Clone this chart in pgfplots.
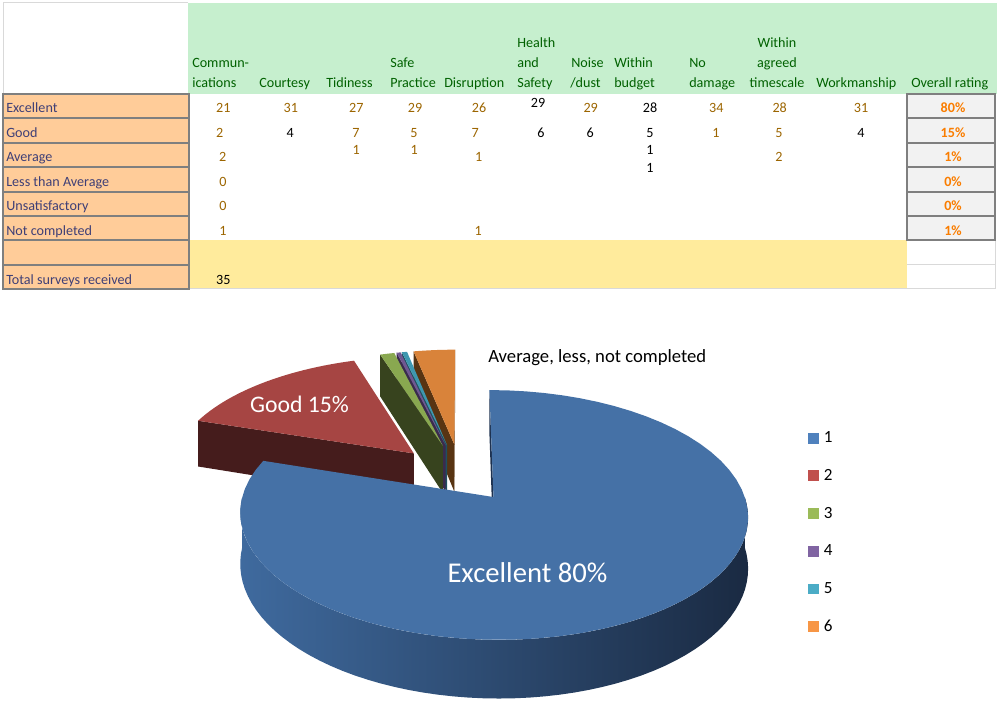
\documentclass[border=0pt]{standalone}
\usepackage{fontspec}
\setmainfont{Carlito}
\usepackage{pgfplots}
\usepackage{pgfplotstable}
\pgfplotsset{compat=1.18}

% spreadsheet cell styles
\definecolor{hdrFill}{HTML}{C6EFCE}
\definecolor{hdrText}{HTML}{006100}
\definecolor{inFill}{HTML}{FFCC99}
\definecolor{inText}{HTML}{3F3F76}
\definecolor{neuFill}{HTML}{FFEB9C}
\definecolor{neuText}{HTML}{9C6500}
\definecolor{calcFill}{HTML}{F2F2F2}
\definecolor{calcText}{HTML}{FA7D00}
\definecolor{cellLine}{HTML}{7F7F7F}
\definecolor{gridLine}{HTML}{D9D9D9}

% pie colours: top faces, cut faces, outer wall
\definecolor{blueT}{HTML}{4571A6}
\definecolor{blueF}{HTML}{1E3250}
\definecolor{blueWL}{HTML}{3F6A9E}
\definecolor{blueWR}{HTML}{1A2A42}
\definecolor{redT}{HTML}{A64543}
\definecolor{redF}{HTML}{451C1C}
\definecolor{greenT}{HTML}{89A850}
\definecolor{greenF}{HTML}{37431E}
\definecolor{purpleT}{HTML}{705791}
\definecolor{purpleF}{HTML}{3A2B4D}
\definecolor{cyanT}{HTML}{3E97B0}
\definecolor{cyanF}{HTML}{1F5060}
\definecolor{orangeT}{HTML}{D9833A}
\definecolor{orangeF}{HTML}{583412}
% legend
\definecolor{leg1}{HTML}{4F81BD}
\definecolor{leg2}{HTML}{C0504D}
\definecolor{leg3}{HTML}{9BBB59}
\definecolor{leg4}{HTML}{8064A2}
\definecolor{leg5}{HTML}{4BACC6}
\definecolor{leg6}{HTML}{F79646}

% shares of the pie (percent), read off the picture, and how far each slice is pulled out
\pgfplotstableread{
slice pct  explode top     face    wallL  wallR
1     80.0 0.22    blueT   blueF   blueWL blueWR
2     15.0 0.28    redT    redF    redF   redF
3     1.1  0.28    greenT  greenF  greenF greenF
4     0.3  0.28    purpleT purpleF purpleF purpleF
5     0.4  0.28    cyanT   cyanF   cyanF  cyanF
6     3.2  0.28    orangeT orangeF orangeF orangeF
}\piedata

% start and end angle of every slice, clockwise from 12 o'clock
\def\acc{0}
\pgfplotsforeachungrouped \i in {0,...,5}{%
  \pgfplotstablegetelem{\i}{pct}\of\piedata
  \pgfmathsetmacro\nxt{\acc+3.6*\pgfplotsretval}%
  \expandafter\xdef\csname angA\i\endcsname{\acc}%
  \expandafter\xdef\csname angB\i\endcsname{\nxt}%
  \xdef\acc{\nxt}%
}

% one cut face of a slice, drawn only if it faces the viewer
\newcommand\radialface[2]{%
  \pgfmathsetmacro\dotp{#2*(cos(#1)*(-(\ou+0.5*sin(#1)))-sin(#1)*(-7.143-(\ov+0.5*cos(#1))))}%
  \pgfmathtruncatemacro\vis{\dotp>0 ? 1 : 0}%
  \ifnum\vis=1
    \edef\cmd{\noexpand\addplot[forget plot, draw=none, fill=\colF,
      samples at={0,1,2,3}, variable=\noexpand\t]
      ({SX(\ou,\ov,(abs(\noexpand\t-1.5)<1 ? 1 : 0),#1)},
       {SY(\ou,\ov,(abs(\noexpand\t-1.5)<1 ? 1 : 0),#1,(\noexpand\t>1.5 ? 1 : 0))});}%
    \cmd
  \fi}

\newcommand\drawslice[1]{%
  \pgfplotstablegetelem{#1}{explode}\of\piedata\edef\ex{\pgfplotsretval}%
  \pgfplotstablegetelem{#1}{top}\of\piedata\edef\colT{\pgfplotsretval}%
  \pgfplotstablegetelem{#1}{face}\of\piedata\edef\colF{\pgfplotsretval}%
  \pgfplotstablegetelem{#1}{wallL}\of\piedata\edef\colWL{\pgfplotsretval}%
  \pgfplotstablegetelem{#1}{wallR}\of\piedata\edef\colWR{\pgfplotsretval}%
  \edef\aA{\csname angA#1\endcsname}%
  \edef\aB{\csname angB#1\endcsname}%
  \pgfmathsetmacro\ou{\ex*sin((\aA+\aB)/2)}%
  \pgfmathsetmacro\ov{\ex*cos((\aA+\aB)/2)}%
  \radialface{\aA}{-1}%
  \radialface{\aB}{1}%
  \pgfmathsetmacro\wA{max(\aA,90)}%
  \pgfmathsetmacro\wB{min(\aB,270)}%
  \pgfmathtruncatemacro\haswall{\wB>\wA+0.01 ? 1 : 0}%
  \ifnum\haswall=1
    \edef\cmd{\noexpand\addplot[forget plot, draw=none, left color=\colWL, right color=\colWR,
      samples at={0,...,121}, variable=\noexpand\t]
      ({SX(\ou,\ov,1,\wA+(\noexpand\t<60.5 ? \noexpand\t : 121-\noexpand\t)*(\wB-\wA)/60)},
       {SY(\ou,\ov,1,\wA+(\noexpand\t<60.5 ? \noexpand\t : 121-\noexpand\t)*(\wB-\wA)/60,(\noexpand\t>60.5 ? 1 : 0))});}%
    \cmd
  \fi
  \edef\cmd{\noexpand\addplot[forget plot, draw=none, fill=\colT,
      samples at={-1,0,...,60}, variable=\noexpand\t]
      ({SX(\ou,\ov,(\noexpand\t<0 ? 0 : 1),\aA+\noexpand\t*(\aB-\aA)/60)},
       {SY(\ou,\ov,(\noexpand\t<0 ? 0 : 1),\aA+\noexpand\t*(\aB-\aA)/60,0)});}%
  \cmd
}

\newcommand\tabfont{\fontsize{10.6}{12.7}\selectfont}

\begin{document}
\begin{tikzpicture}[
    declare function={
      PX(\pu,\pv)=461+245*\pu/(1+0.14*\pv);
      PY(\pu,\pv)=475.8-116.3*\pv/(1+0.14*\pv);
      PD(\pv)=49/(1+0.14*\pv);
      SX(\qu,\qv,\qr,\qa)=PX(\qu+\qr*sin(\qa),\qv+\qr*cos(\qa));
      SY(\qu,\qv,\qr,\qa,\qd)=PY(\qu+\qr*sin(\qa),\qv+\qr*cos(\qa))+\qd*PD(\qv+\qr*cos(\qa));
    }]
  \begin{axis}[
      width=750pt, height=533.25pt, scale only axis,
      xmin=0, xmax=1000, ymin=0, ymax=711, y dir=reverse,
      hide axis, clip=false,
      legend image code/.code={\fill[#1, draw=none] (0pt,-4.1pt) rectangle (8.25pt,4.1pt);},
      legend style={at={(axis cs:808,431.5)}, anchor=north west,
        draw=none, fill=none, inner sep=0pt, row sep=18.5pt,
        font=\fontsize{12.8}{15}\selectfont,
        nodes={inner sep=0pt},
        /tikz/every odd column/.append style={column sep=3.5pt}},
    ]
    \addlegendimage{fill=leg1, draw=none}\addlegendentry{1}
    \addlegendimage{fill=leg2, draw=none}\addlegendentry{2}
    \addlegendimage{fill=leg3, draw=none}\addlegendentry{3}
    \addlegendimage{fill=leg4, draw=none}\addlegendentry{4}
    \addlegendimage{fill=leg5, draw=none}\addlegendentry{5}
    \addlegendimage{fill=leg6, draw=none}\addlegendentry{6}

    % back slices first, the big front slice last
    \drawslice{5}
    \drawslice{4}
    \drawslice{3}
    \drawslice{2}
    \drawslice{1}
    \drawslice{0}
  \end{axis}
  \pgfresetboundingbox
  \useasboundingbox (0,0) rectangle (750pt,533.25pt);

  \begin{scope}[x=0.75pt, y=-0.75pt, yshift=533.25pt]
    % pie labels
    \node[anchor=base, text=white, inner sep=0pt, font=\fontsize{21.5}{24}\selectfont] at (527.5,583) {Excellent 80\%};
    \node[anchor=base, text=white, inner sep=0pt, font=\fontsize{17.8}{20}\selectfont] at (299.5,413) {Good 15\%};
    \node[anchor=base west, inner sep=0pt, font=\fontsize{14}{17}\selectfont] at (488,362.3) {Average, less, not completed};

    % table backgrounds
    \draw[gridLine, line width=0.75pt] (3,94) -- (3,3) -- (188,3);
    \fill[hdrFill] (188,3) rectangle (997,94);
    \fill[neuFill] (189,240) rectangle (907,289);
    \draw[gridLine, line width=0.75pt] (189,289) -- (995,289) (907,265) -- (995,265) (995,240) -- (995,289);
    \foreach \ya/\yb in {94/118,118/143,143/167,167/192,192/216,216/240,240/265,265/289}
      \filldraw[fill=inFill, draw=cellLine, line width=1.5pt] (3,\ya) rectangle (189,\yb);
    \foreach \ya/\yb in {94/118,118/143,143/167,167/192,192/216,216/240}
      \filldraw[fill=calcFill, draw=cellLine, line width=1.5pt] (907,\ya) rectangle (995,\yb);

    % column headings
    \begin{scope}[every node/.style={anchor=base west, inner sep=0pt, text=hdrText, font=\tabfont}]
      \node at (192,67.5) {Commun-};  \node at (192,87.3) {ications};
      \node at (259,87.3) {Courtesy};
      \node at (326,87.3) {Tidiness};
      \node at (390,67.5) {Safe};     \node at (390,87.3) {Practice};
      \node at (444,87.3) {Disruption};
      \node at (517,48) {Health};     \node at (517,67.5) {and};  \node at (517,87.3) {Safety};
      \node at (571,67.5) {Noise};    \node at (570,87.3) {/dust};
      \node at (614,67.5) {Within};   \node at (614,87.3) {budget};
      \node at (689,67.5) {No};       \node at (689,87.3) {damage};
      \node[anchor=base] at (777,48) {Within};
      \node[anchor=base] at (777,67.5) {agreed};
      \node[anchor=base] at (777,87.3) {timescale};
      \node at (816,87.3) {Workmanship};
      \node at (911,87.3) {Overall rating};
    \end{scope}

    % row headings
    \begin{scope}[every node/.style={anchor=base west, inner sep=0pt, text=inText, font=\tabfont}]
      \node at (6,112.7) {Excellent};
      \node at (6,137.3) {Good};
      \node at (6,161.7) {Average};
      \node at (6,186.5) {Less than Average};
      \node at (6,211) {Unsatisfactory};
      \node at (6,235.5) {Not completed};
      \node at (6,284.3) {Total surveys received};
    \end{scope}

    % counts
    \begin{scope}[every node/.style={anchor=base, inner sep=0pt, text=neuText, font=\tabfont}]
      % Excellent
      \node at (223.3,112.7) {21}; \node at (290.8,112.7) {31}; \node at (356.3,112.7) {27};
      \node at (415,112.7) {29};   \node at (479,112.7) {26};
      \node[text=black] at (538,107.3) {29};
      \node at (590.7,112.7) {29};
      \node[text=black] at (650,112.7) {28};
      \node at (716.3,112.7) {34}; \node at (779.7,112.7) {28}; \node at (861,112.7) {31};
      % Good
      \node at (219.7,137.3) {2};
      \node[text=black] at (290.3,137.3) {4};
      \node at (356,137.3) {7};    \node at (414,137.3) {5};    \node at (475.3,137.3) {7};
      \node[text=black] at (541,137.3) {6};
      \node[text=black] at (590.3,137.3) {6};
      \node[text=black] at (650,137.3) {5};
      \node at (716,137.3) {1};    \node at (779,137.3) {5};
      \node[text=black] at (861,137.3) {4};
      % Average
      \node at (222.8,161.7) {2};
      \node at (356.2,155) {1};    \node at (414.3,155) {1};    \node at (478.7,161.7) {1};
      \node[text=black] at (650,155) {1};
      \node[text=black] at (650,172.3) {1};
      \node at (779,161.7) {2};
      % Less than average, unsatisfactory, not completed
      \node at (223,186.5) {0};
      \node at (223,211) {0};
      \node at (223,235.5) {1};    \node at (478.3,235.5) {1};
      % total
      \node[text=black] at (223.3,284.3) {35};
    \end{scope}

    % overall rating
    \begin{scope}[every node/.style={anchor=base, inner sep=0pt, text=calcText, font=\tabfont\bfseries}]
      \node at (953,112.7) {80\%};
      \node at (953,137.3) {15\%};
      \node at (953,161.7) {1\%};
      \node at (953,186.5) {0\%};
      \node at (953,211) {0\%};
      \node at (953,235.5) {1\%};
    \end{scope}
  \end{scope}
\end{tikzpicture}
\end{document}
